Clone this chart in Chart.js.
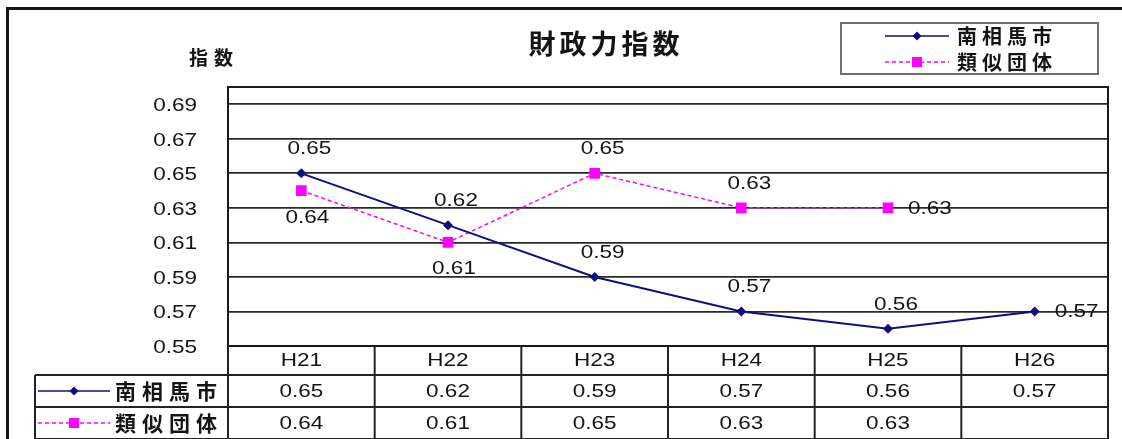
<!DOCTYPE html>
<html>
<head>
<meta charset="utf-8">
<script src="https://cdn.jsdelivr.net/npm/chart.js@4.4.0/dist/chart.umd.min.js"></script>
<style>
  html, body { margin: 0; padding: 0; background: #fff; }
  #wrap { width: 1122px; height: 439px; }
</style>
</head>
<body>
<div id="wrap"><canvas id="chart" width="1122" height="439"></canvas></div>
<script>
const TITLE = '財政力指数';
const Y_TITLE = '指数';
const years = ['H21', 'H22', 'H23', 'H24', 'H25', 'H26'];
const seriesNames = ['南相馬市', '類似団体'];
const minamisoma = [0.65, 0.62, 0.59, 0.57, 0.56, 0.57];
const similar = [0.64, 0.61, 0.65, 0.63, 0.63, null];
const yTicks = [0.55, 0.57, 0.59, 0.61, 0.63, 0.65, 0.67, 0.69];
const yMin = 0.55;
const yMax = 0.70;

// where each value label sits next to its point
const minamisomaLabelPos = ['above', 'above', 'above', 'above', 'above', 'right'];
const similarLabelPos = ['below', 'below', 'above', 'above', 'right', null];

const NAVY = '#10107a';
const MAGENTA = '#ff00ff';
const TEXT = '#141414';
const NUM_FONT = "18px 'Liberation Sans', Arial, sans-serif";
const NUM_SX = 1.25;
const CJK = "'Noto Sans CJK JP', 'Noto Sans CJK SC', sans-serif";

function drawText(ctx, text, x, y, opts) {
    ctx.save();
    ctx.font = opts.font;
    ctx.fillStyle = opts.color || TEXT;
    ctx.textBaseline = 'middle';
    ctx.textAlign = 'left';
    ctx.letterSpacing = '0px';
    const sx = opts.sx || 1;
    const sp = opts.spacing || 0;
    const n = [...text].length;
    const w = (ctx.measureText(text).width + sp * (n - 1)) * sx;
    let left = x;
    if (opts.align === 'center') left = x - w / 2;
    else if (opts.align === 'right') left = x - w;
    ctx.letterSpacing = sp + 'px';
    ctx.translate(left, y);
    ctx.scale(sx, 1);
    ctx.fillText(text, 0, 0);
    ctx.restore();
}

function drawMarker(ctx, style, x, y, size, color) {
    ctx.save();
    ctx.fillStyle = color;
    ctx.beginPath();
    if (style === 'rectRot') {
        ctx.moveTo(x - size, y);
        ctx.lineTo(x, y - size);
        ctx.lineTo(x + size, y);
        ctx.lineTo(x, y + size);
        ctx.closePath();
    } else {
        ctx.rect(x - size, y - size, size * 2, size * 2);
    }
    ctx.fill();
    ctx.restore();
}

// legend-style key: line sample with a marker in the middle
function drawKey(ctx, ds, x1, x2, y) {
    ctx.save();
    ctx.strokeStyle = ds.borderColor;
    ctx.lineWidth = 1.5;
    ctx.setLineDash(ds.borderDash || []);
    ctx.beginPath();
    ctx.moveTo(x1, y);
    ctx.lineTo(x2, y);
    ctx.stroke();
    ctx.restore();
    const mx = (x1 + x2) / 2;
    if (ds.pointStyle === 'rectRot') drawMarker(ctx, 'rectRot', mx, y, 4.5, ds.borderColor);
    else drawMarker(ctx, 'rect', mx, y, 5, ds.borderColor);
}

const framePlugin = {
    id: 'frame',
    beforeDatasetsDraw(chart) {
        const { ctx, chartArea: a } = chart;
        ctx.save();
        ctx.strokeStyle = '#1a1a1a';
        ctx.lineWidth = 2;
        ctx.strokeRect(a.left, a.top, a.right - a.left, a.bottom - a.top);
        ctx.restore();
    },
    afterDraw(chart) {
        const { ctx, chartArea: a } = chart;
        const xs = chart.scales.x;
        const ys = chart.scales.y;
        const dsets = chart.data.datasets;

        // outer frame (left and top edges visible)
        ctx.save();
        ctx.strokeStyle = '#151515';
        ctx.lineWidth = 3;
        ctx.beginPath();
        ctx.moveTo(7.5, 439);
        ctx.lineTo(7.5, 8.5);
        ctx.lineTo(1122, 8.5);
        ctx.stroke();
        ctx.restore();

        // titles
        drawText(ctx, TITLE, 604, 44, { font: 'bold 27px ' + CJK, spacing: 4, align: 'center' });
        drawText(ctx, Y_TITLE, 211, 58, { font: 'bold 19px ' + CJK, spacing: 6, align: 'center' });

        // y tick labels
        yTicks.forEach(v => {
            drawText(ctx, v.toFixed(2), 197, ys.getPixelForValue(v) + 2, { font: NUM_FONT, sx: NUM_SX, align: 'right' });
        });

        // legend box
        ctx.save();
        ctx.strokeStyle = '#707070';
        ctx.lineWidth = 2;
        ctx.strokeRect(841, 23, 257, 51);
        ctx.restore();
        dsets.forEach((ds, i) => {
            const y = 36 + i * 26;
            drawKey(ctx, ds, 885, 949, y);
            drawText(ctx, ds.label, 957, y, { font: 'bold 20px ' + CJK, spacing: 5, align: 'left' });
        });

        // value labels
        dsets.forEach((ds, i) => {
            const meta = chart.getDatasetMeta(i);
            meta.data.forEach((pt, j) => {
                const v = ds.data[j];
                if (v === null || v === undefined) return;
                const pos = ds.labelPos[j];
                const txt = v.toFixed(2);
                if (pos === 'above') drawText(ctx, txt, pt.x + 8, pt.y - 24, { font: NUM_FONT, sx: NUM_SX, align: 'center' });
                else if (pos === 'below') drawText(ctx, txt, pt.x + 6, pt.y + 27, { font: NUM_FONT, sx: NUM_SX, align: 'center' });
                else drawText(ctx, txt, pt.x + 20, pt.y + 1, { font: NUM_FONT, sx: NUM_SX, align: 'left' });
            });
        });

        // data table
        const n = chart.data.labels.length;
        const colW = (a.right - a.left) / n;
        const rowTop = a.bottom + 29;
        const rowH = 32;
        const tableLeft = 35;
        const tableBottom = rowTop + rowH * dsets.length;
        ctx.save();
        ctx.strokeStyle = '#222';
        ctx.lineWidth = 2;
        ctx.beginPath();
        for (let k = 0; k <= n; k++) {
            const x = a.left + k * colW;
            ctx.moveTo(x, a.bottom);
            ctx.lineTo(x, tableBottom);
        }
        ctx.moveTo(tableLeft, rowTop);
        ctx.lineTo(tableLeft, tableBottom);
        for (let r = 0; r <= dsets.length; r++) {
            const y = rowTop + r * rowH;
            ctx.moveTo(tableLeft, y);
            ctx.lineTo(a.right, y);
        }
        ctx.stroke();
        ctx.restore();

        chart.data.labels.forEach((lab, j) => {
            const cx = xs.getPixelForValue(j);
            drawText(ctx, lab, cx, (a.bottom + rowTop) / 2 + 1, { font: NUM_FONT, sx: NUM_SX, align: 'center' });
            dsets.forEach((ds, i) => {
                const v = ds.data[j];
                if (v === null || v === undefined) return;
                drawText(ctx, v.toFixed(2), cx, rowTop + rowH * i + rowH / 2 + 1, { font: NUM_FONT, sx: NUM_SX, align: 'center' });
            });
        });
        dsets.forEach((ds, i) => {
            const y = rowTop + rowH * i + rowH / 2;
            drawKey(ctx, ds, 38, 110, y);
            drawText(ctx, ds.label, 115, y, { font: 'bold 21px ' + CJK, spacing: 6, align: 'left' });
        });
    }
};

new Chart(document.getElementById('chart'), {
    type: 'line',
    data: {
        labels: years,
        datasets: [
            { label: seriesNames[0], data: minamisoma, borderColor: NAVY, backgroundColor: NAVY, borderWidth: 2, pointStyle: 'rectRot', pointRadius: 5, pointBorderWidth: 0, labelPos: minamisomaLabelPos },
            { label: seriesNames[1], data: similar, borderColor: MAGENTA, backgroundColor: MAGENTA, borderWidth: 1.5, borderDash: [4, 3], pointStyle: 'rect', pointRadius: 7.5, pointBorderWidth: 0, labelPos: similarLabelPos }
        ]
    },
    options: {
        responsive: false,
        animation: false,
        events: [],
        layout: { padding: { left: 228, right: 14, top: 87, bottom: 93 } },
        plugins: { legend: { display: false }, title: { display: false }, tooltip: { enabled: false } },
        scales: {
            x: { display: false, offset: true },
            y: {
                min: yMin,
                max: yMax,
                afterBuildTicks: s => { s.ticks = yTicks.map(v => ({ value: v })); },
                ticks: { display: false },
                grid: { color: '#2a2a2a', lineWidth: 1.8, drawTicks: false },
                border: { display: false }
            }
        }
    },
    plugins: [framePlugin]
});
</script>
</body>
</html>
